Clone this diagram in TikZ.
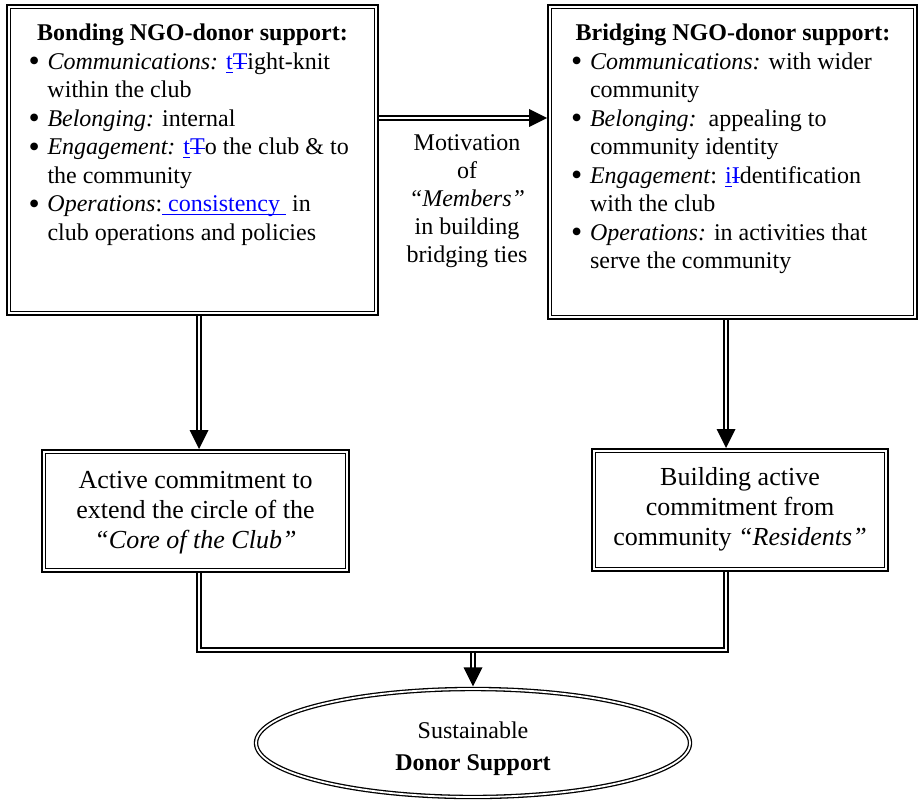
\documentclass[tikz,border=0pt]{standalone}
\usepackage{fontspec}
\setmainfont{Liberation Serif}
\usetikzlibrary{calc,fit,shapes.geometric}
\definecolor{tcblue}{RGB}{0,0,255}
\newsavebox\tcbox
\newcommand{\tcins}[1]{\textcolor{tcblue}{\sbox\tcbox{#1}\rlap{\rule[-1.6pt]{\wd\tcbox}{0.55pt}}\usebox\tcbox}}
\newcommand{\tcdel}[1]{\textcolor{tcblue}{\sbox\tcbox{#1}\rlap{\rule[2.9pt]{\wd\tcbox}{0.55pt}}\usebox\tcbox}}
\newcommand{\bitem}[1]{\par\hangindent=9.5pt\hangafter=1\noindent\makebox[9.5pt][l]{\smash{\raisebox{-1.2pt}{\fontsize{16}{16}\selectfont\textbullet}}}#1}
\begin{document}
\begin{tikzpicture}[x=0.5pt,y=-0.5pt,
  boxline/.style={draw, line width=1pt, inner sep=0pt, outer sep=0pt},
  innerline/.style={line width=0.6pt},
  conn/.style={draw, double, line width=0.8pt, double distance=0.95pt},
  tip/.style={fill=black},
  txt/.style={inner sep=0pt, outer sep=0pt, font=\fontsize{12}{14.25}\selectfont},
]
\useasboundingbox (0,0) rectangle (919,807);

% boxes
\node[boxline, fit={(7,5)(378,315)}] (tl) {};
\node[boxline, fit={(548,5)(917,319)}] (tr) {};
\node[boxline, fit={(42,450)(349,572)}] (bl) {};
\node[boxline, fit={(592,449)(888,571)}] (br) {};
\foreach \n in {tl,tr,bl,br}
  \draw[innerline] ($(\n.north west)+(3.6,3.6)$) rectangle ($(\n.south east)+(-3.6,-3.6)$);

% ellipse
\node[draw, ellipse, double, line width=0.65pt, double distance=0.9pt,
      minimum width=217pt, minimum height=54pt, inner sep=0pt] (el) at (473,743) {};
\node[txt, align=center, font=\fontsize{12}{16}\selectfont] (eltext) at (473,749) {Sustainable\\\textbf{Donor Support}};

% texts
\node[txt, anchor=base] (tltitle) at (192.5,41) {\textbf{Bonding NGO-donor support:}};
\node[txt, anchor=base west] (tllist) at (28.5,69.5) {\parbox[t]{175pt}{\raggedright\fontsize{12}{14.25}\selectfont
  \bitem{\textit{Communications:} \tcins{t}\tcdel{T}ight-knit\newline within the club}
  \bitem{\textit{Belonging:} internal}
  \bitem{\textit{Engagement:} \tcins{t}\tcdel{T}o the club \& to\newline the community}
  \bitem{\textit{Operations}:\tcins{\ consistency\ } in\newline club operations and policies}}};

\node[txt, anchor=base] (trtitle) at (733,41) {\textbf{Bridging NGO-donor support:}};
\node[txt, anchor=base west] (trlist) at (571,69.5) {\parbox[t]{175pt}{\raggedright\fontsize{12}{14.25}\selectfont
  \bitem{\textit{Communications:} with wider\newline community}
  \bitem{\textit{Belonging:}\ \ appealing to\newline community identity}
  \bitem{\textit{Engagement}: \tcins{i}\tcdel{I}dentification\newline with the club}
  \bitem{\textit{Operations:} in activities that\newline serve the community}}};

\node[txt, anchor=base] (mot) at (467,151) {\parbox[t]{80pt}{\centering\fontsize{12}{14}\selectfont
  Motivation\\ of\\ \textit{“Members”}\\ in building\\ bridging ties}};

\node[txt, anchor=base] (bltext) at (195.5,488) {\parbox[t]{150pt}{\centering\fontsize{13}{15}\selectfont
  Active commitment to\\ extend the circle of the\\ \textit{“Core of the Club”}}};
\node[txt, anchor=base] (brtext) at (740,485) {\parbox[t]{150pt}{\centering\fontsize{13}{15}\selectfont
  Building active\\ commitment from\\ community \textit{“Residents”}}};

% connector coordinates
\coordinate (hy) at (0,118);
\coordinate (vl) at (199,0);
\coordinate (vr) at (726,0);
\coordinate (hb) at (0,650);

% horizontal arrow
\draw[conn] ($(tl.east |- hy)+(1,0)$) -- ($(tr.west |- hy)+(-17,0)$);
\fill[tip] ($(tr.west |- hy)+(-1,0)$) -- ++(-18,-9) -- ++(0,18) -- cycle;

% left vertical arrow
\draw[conn] ($(tl.south -| vl)+(0,1)$) -- ($(bl.north -| vl)+(0,-18)$);
\fill[tip] ($(bl.north -| vl)+(0,-1)$) -- ++(-9.5,-19) -- ++(19,0) -- cycle;

% right vertical arrow
\draw[conn] ($(tr.south -| vr)+(0,1)$) -- ($(br.north -| vr)+(0,-18)$);
\fill[tip] ($(br.north -| vr)+(0,-1)$) -- ++(-9.5,-19) -- ++(19,0) -- cycle;

% bottom joining lines
\draw[conn] ($(bl.south -| vl)+(0,1)$) |- (el.north |- hb) -| ($(br.south -| vr)+(0,1)$);
\draw[conn] ($(el.north |- hb)+(0,2.6)$) -- ($(el.north)+(0,-19)$);
\fill[tip] ($(el.north)+(0,-2)$) -- ++(-9.5,-19) -- ++(19,0) -- cycle;
\end{tikzpicture}
\end{document}
